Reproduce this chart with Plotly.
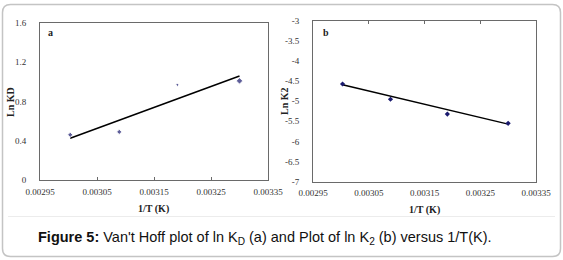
import plotly.graph_objects as go

# ---- data ----
inv_T = [0.003003, 0.003089, 0.003191, 0.003300]
ln_KD = [0.46, 0.49, 0.97, 1.01]
ln_K2 = [-4.57, -4.95, -5.32, -5.55]
fit_a_x = [0.003003, 0.003300]
fit_a_y = [0.425, 1.06]
fit_b_x = [0.003003, 0.003300]
fit_b_y = [-4.59, -5.57]

x_ticks = [0.00295, 0.00305, 0.00315, 0.00325, 0.00335]
x_ticktext = ["0.00295", "0.00305", "0.00315", "0.00325", "0.00335"]
ya_ticks = [0, 0.4, 0.8, 1.2, 1.6]
ya_ticktext = ["0", "0.4", "0.8", "1.2", "1.6"]
yb_ticks = [-3, -3.5, -4, -4.5, -5, -5.5, -6, -6.5, -7]
yb_ticktext = ["-3", "-3.5", "-4", "-4.5", "-5", "-5.5", "-6", "-6.5", "-7"]

W, H = 563, 260
def px(x): return x / W
def py(y): return 1 - y / H

MARK = "#1a1a6e"
AX = "#6a6a6a"
TICKF = dict(family="Liberation Serif", size=9, color="#333333")
TITF = dict(family="Liberation Serif", size=10, color="#222222")

fig = go.Figure()
fig.add_trace(go.Scatter(x=fit_a_x, y=fit_a_y, mode="lines", line=dict(color="black", width=1.5),
                         xaxis="x", yaxis="y", showlegend=False, hoverinfo="skip"))
fig.add_trace(go.Scatter(x=inv_T, y=ln_KD, mode="markers",
                         marker=dict(symbol="diamond", size=[4, 4, 2.5, 5], color=MARK),
                         xaxis="x", yaxis="y", showlegend=False))
fig.add_trace(go.Scatter(x=fit_b_x, y=fit_b_y, mode="lines", line=dict(color="black", width=1.5),
                         xaxis="x2", yaxis="y2", showlegend=False, hoverinfo="skip"))
fig.add_trace(go.Scatter(x=inv_T, y=ln_K2, mode="markers",
                         marker=dict(symbol="diamond", size=4, color=MARK),
                         xaxis="x3", yaxis="y2", showlegend=False))

dom_a_x = [px(40), px(268)]
dom_a_y = [py(180), py(23)]
dom_b_x = [px(313), px(536)]
dom_b_y = [py(181.5), py(21)]

common_x = dict(range=[0.00295, 0.00335], tickvals=x_ticks, ticktext=x_ticktext,
                tickfont=TICKF, showgrid=False, zeroline=False, showline=True,
                linecolor=AX, linewidth=1, fixedrange=True, automargin=False)
common_y = dict(tickfont=TICKF, showgrid=False, zeroline=False, showline=True, mirror=True,
                linecolor=AX, linewidth=1, ticks="", ticklabelstandoff=11,
                fixedrange=True, automargin=False)

fig.update_layout(
    width=W, height=H, margin=dict(l=0, r=0, t=0, b=0),
    paper_bgcolor="white", plot_bgcolor="white",
    xaxis=dict(domain=dom_a_x, anchor="y", mirror=True, ticks="inside", ticklen=3,
               tickcolor=AX, ticklabelstandoff=3, **common_x),
    yaxis=dict(domain=dom_a_y, anchor="x", range=[0, 1.6], tickvals=ya_ticks,
               ticktext=ya_ticktext, **common_y),
    xaxis2=dict(domain=dom_b_x, anchor="y2", mirror=True, ticks="", ticklabelstandoff=3,
                **common_x),
    xaxis3=dict(overlaying="x2", anchor="y2", side="top", range=[0.00295, 0.00335],
                tickvals=x_ticks, showticklabels=False, ticks="inside", ticklen=3,
                tickcolor=AX, showgrid=False, zeroline=False, showline=False,
                fixedrange=True, automargin=False),
    yaxis2=dict(domain=dom_b_y, anchor="x2", range=[-7, -3], tickvals=yb_ticks,
                ticktext=yb_ticktext, **common_y),
)

def note(x, y, text, font, angle=0):
    fig.add_annotation(x=px(x), y=py(y), xref="paper", yref="paper", text=text,
                       showarrow=False, textangle=angle, font=font,
                       xanchor="center", yanchor="middle")

# axis titles
note(154, 209, "<b>1/T (K)</b>", TITF)
note(424.5, 209.5, "<b>1/T (K)</b>", TITF)
note(11, 102, "<b>Ln KD</b>", TITF, -90)
note(285, 101, "<b>Ln K2</b>", TITF, -90)

# panel labels
PANF = dict(family="Liberation Serif", size=10, color="#222")
note(50, 32, "<b>a</b>", PANF)
note(326, 32, "<b>b</b>", PANF)

# caption
note(264.5, 238,
     "<b>Figure 5:</b> Van't Hoff plot of ln K<sub>D</sub> (a) and Plot of ln K<sub>2</sub> (b) versus 1/T(K).",
     dict(family="Liberation Sans", size=14.5, color="#111"))

# outer rounded frame
x0, x1, y0, y1, r = px(2.5), px(560.5), py(256.5), py(4.5), 8
rx, ry = r / W, r / H
path = (f"M {x0+rx},{y1} L {x1-rx},{y1} Q {x1},{y1} {x1},{y1-ry} "
        f"L {x1},{y0+ry} Q {x1},{y0} {x1-rx},{y0} L {x0+rx},{y0} Q {x0},{y0} {x0},{y0+ry} "
        f"L {x0},{y1-ry} Q {x0},{y1} {x0+rx},{y1} Z")
fig.add_shape(type="path", path=path, xref="paper", yref="paper",
              line=dict(color="#c4c4c4", width=1.5))
fig.add_shape(type="line", x0=px(8), x1=px(555), y0=py(216.5), y1=py(216.5),
              xref="paper", yref="paper", line=dict(color="#ececec", width=1))

fig.write_html("out.html", config={"displayModeBar": False},
               post_script="document.body.style.margin='0';document.body.style.overflow='hidden';")
